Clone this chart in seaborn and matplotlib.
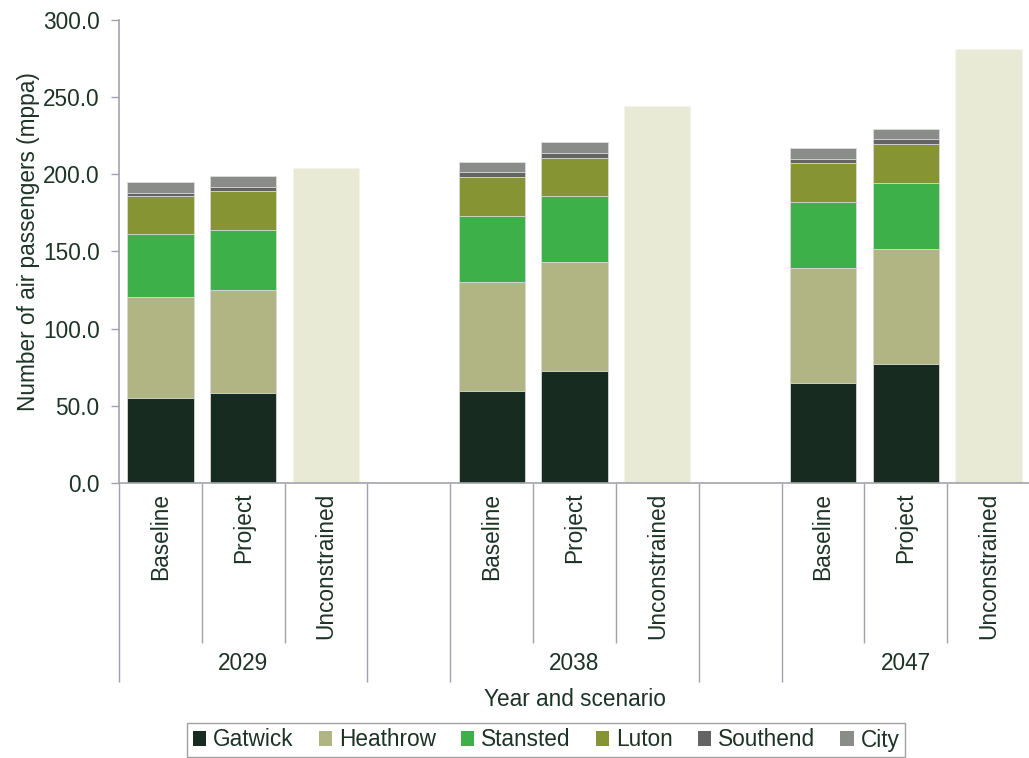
import matplotlib
matplotlib.use("Agg")
import matplotlib.pyplot as plt
import seaborn as sns
import pandas as pd
import numpy as np
from matplotlib.patches import Patch
import matplotlib.transforms as mtransforms

# ---------------- data ----------------
years = ["2029", "2038", "2047"]
scenarios = ["Baseline", "Project", "Unconstrained"]
series_names = ["Gatwick", "Heathrow", "Stansted", "Luton", "Southend", "City"]
# order of stacked bars: 2029 Baseline, 2029 Project, 2038 Baseline, 2038 Project, 2047 Baseline, 2047 Project
gatwick = [54.9, 58.5, 59.8, 72.8, 64.8, 77.3]
heathrow = [65.8, 66.3, 70.2, 70.4, 74.3, 74.1]
stansted = [40.6, 38.9, 42.8, 42.5, 43.2, 43.2]
luton = [24.7, 25.2, 25.3, 25.2, 24.8, 25.1]
southend = [1.7, 2.6, 3.2, 3.2, 2.8, 3.0]
city = [7.4, 7.4, 6.9, 7.1, 7.2, 6.9]
unconstrained = [204.3, 244.0, 281.0]

colors = ["#172b21", "#b1b583", "#3db049", "#879433", "#646464", "#8a8c8a"]
uncon_color = "#e8ead6"
text_color = "#1c3326"
axis_color = "#a3a3ab"
FS = 16.3

# ---------------- build categories ----------------
order = []
for i, y in enumerate(years):
    for s in scenarios:
        order.append(f"{y} {s}")
    if i < len(years) - 1:
        order.append(f"gap{i}")

stack_cats = [f"{y} {s}" for y in years for s in scenarios[:2]]
layers = [gatwick, heathrow, stansted, luton, southend, city]
cum = np.cumsum(np.array(layers), axis=0)

stack_df = pd.DataFrame({"cat": stack_cats})
for name, c in zip(series_names, cum):
    stack_df[name] = c
uncon_df = pd.DataFrame({"cat": [f"{y} Unconstrained" for y in years],
                         "value": unconstrained})

# ---------------- figure ----------------
sns.set_theme(style="white")
plt.rcParams["font.family"] = ["Liberation Sans", "DejaVu Sans"]

fig = plt.figure(figsize=(10.29, 7.58), dpi=100)
ax = fig.add_axes([119 / 1029, 275 / 758, (1030 - 119) / 1029, 463 / 758])

# draw cumulative totals from top layer down
for name, col in reversed(list(zip(series_names, colors))):
    sns.barplot(data=stack_df, x="cat", y=name, order=order, color=col,
                saturation=1, width=0.8, errorbar=None, ax=ax,
                edgecolor="#dcdcdc", linewidth=0.6)
sns.barplot(data=uncon_df, x="cat", y="value", order=order, color=uncon_color,
            saturation=1, width=0.8, errorbar=None, ax=ax,
            edgecolor="#f4f5ec", linewidth=0.6)

ax.set_xlim(-0.5, len(order) - 0.5)
ax.set_ylim(0, 300)
ax.set_yticks(np.arange(0, 301, 50))
ax.set_yticklabels([f"{v:.1f}" for v in np.arange(0, 301, 50)],
                   fontsize=FS, color=text_color)

labels = ["" if c.startswith("gap") else c.split(" ")[1] for c in order]
ax.set_xticks(range(len(order)))
ax.set_xticklabels(labels, rotation=90, fontsize=FS, color=text_color, va="top")
ax.tick_params(axis="x", length=0, pad=7)
ax.tick_params(axis="y", length=6, width=1, color=axis_color, direction="out", pad=8, left=True)

for side in ["top", "right"]:
    ax.spines[side].set_visible(False)
for side in ["left", "bottom"]:
    ax.spines[side].set_color(axis_color)
    ax.spines[side].set_linewidth(1.2)

ax.set_xlabel("")
ax.set_ylabel("Number of air passengers (mppa)", fontsize=FS, color=text_color)
ax.yaxis.set_label_coords(-(119 - 40) / 911, (483 - 242) / 463)

# separator lines for the multi-level category axis
trans = mtransforms.blended_transform_factory(ax.transData, ax.transAxes)
short_end = -(643 - 483) / 463
long_end = -(682 - 483) / 463
n = len(order)
for b in range(n + 1):
    xb = b - 0.5
    left_cat = order[b - 1] if b - 1 >= 0 else None
    right_cat = order[b] if b < n else None
    is_long = (left_cat is None or right_cat is None or
               left_cat.startswith("gap") or right_cat.startswith("gap"))
    yend = long_end if is_long else short_end
    ax.plot([xb, xb], [0, yend], transform=trans, color=axis_color, lw=1.0,
            clip_on=False, solid_capstyle="butt")

# year labels
for y in years:
    idx = order.index(f"{y} Project")
    ax.text(idx, -(664 - 483) / 463, y, transform=trans, ha="center", va="center",
            fontsize=FS, color=text_color)

ax.text(0.5 * (n - 1), -(700 - 483) / 463, "Year and scenario", transform=trans,
        ha="center", va="center", fontsize=FS, color=text_color)

# legend
handles = [Patch(facecolor=c, edgecolor="none", label=l) for l, c in zip(series_names, colors)]
leg = fig.legend(handles=handles, loc="center", bbox_to_anchor=(546 / 1029, (758 - 740) / 758),
                 ncol=6, frameon=True, fancybox=False, fontsize=FS,
                 handlelength=0.6, handleheight=0.6, handletextpad=0.3,
                 columnspacing=1.1, borderpad=0.25)
leg.get_frame().set_edgecolor("#8a8a8a")
leg.get_frame().set_linewidth(1.0)
for t in leg.get_texts():
    t.set_color(text_color)

fig.savefig("out.png", dpi=100)
